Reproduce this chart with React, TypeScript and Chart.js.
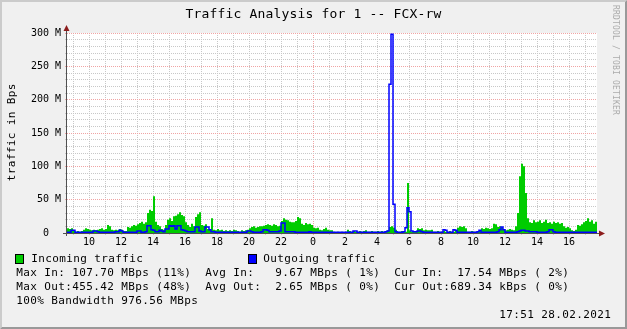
import React, { useEffect, useRef } from 'react';
import { Chart, registerables } from 'chart.js';

Chart.register(...registerables);

// time axis: hours relative to 09:00 of the first day
const BASE_HOUR = 9;
const START_HOUR = -0.375;
const STEP_HOURS = 0.125;
const END_HOUR = 32.75;
const MIDNIGHT_HOUR = 15;

// values in M (Bps), one per 7.5 minutes
const incoming = [
  7, 6, 7, 3, 2, 3, 2, 3, 5, 7, 6, 5, 4, 5, 4, 5, 6, 7, 5, 6,
  12, 10, 5, 4, 5, 4, 6, 5, 3, 3, 9, 8, 10, 12, 11, 13, 15, 17, 14, 16,
  30, 35, 33, 55, 17, 12, 10, 6, 5, 12, 20, 22, 18, 25, 26, 28, 31, 27, 25, 16,
  12, 9, 14, 10, 24, 28, 31, 12, 11, 13, 6, 5, 22, 5, 4, 6, 4, 5, 3, 4,
  3, 4, 3, 5, 4, 3, 2, 4, 3, 4, 5, 7, 9, 10, 8, 9, 10, 10, 11, 12,
  13, 12, 11, 13, 12, 10, 11, 18, 22, 20, 19, 17, 16, 16, 18, 24, 22, 14, 12, 15,
  13, 14, 12, 8, 7, 8, 5, 4, 6, 8, 5, 4, 4, 2, 1, 2, 1, 2, 1, 2,
  5, 3, 2, 3, 2, 2, 3, 2, 3, 4, 2, 2, 3, 2, 2, 3, 2, 3, 2, 3,
  4, 9, 10, 8, 5, 2, 2, 3, 2, 2, 75, 4, 2, 2, 3, 7, 6, 7, 4, 5,
  4, 4, 5, 2, 2, 3, 2, 2, 3, 2, 2, 3, 2, 2, 3, 8, 10, 9, 10, 7,
  2, 2, 3, 2, 2, 2, 3, 7, 6, 8, 7, 6, 7, 14, 13, 9, 10, 8, 5, 4,
  5, 6, 5, 4, 10, 30, 85, 104, 100, 60, 22, 16, 15, 19, 16, 17, 19, 15, 17, 20,
  15, 16, 14, 17, 15, 16, 14, 15, 10, 8, 9, 7, 4, 3, 5, 12, 11, 13, 16, 18,
  22, 17, 19, 14, 17,
];

const outgoing = [
  1, 1, 4, 4, 1, 1, 1, 1, 1, 1, 1, 1, 1, 3, 3, 2, 1, 1, 1, 1,
  1, 1, 1, 1, 2, 2, 4, 3, 1, 1, 1, 1, 1, 1, 1, 3, 3, 1, 1, 2,
  11, 11, 5, 4, 2, 2, 4, 3, 2, 6, 6, 11, 10, 11, 6, 11, 11, 5, 4, 3,
  2, 2, 2, 2, 9, 9, 3, 2, 2, 9, 9, 5, 2, 2, 1, 1, 1, 1, 1, 1,
  1, 1, 1, 1, 1, 1, 1, 1, 1, 1, 3, 3, 2, 1, 1, 1, 1, 2, 5, 5,
  4, 2, 2, 2, 2, 2, 3, 15, 15, 2, 2, 2, 2, 2, 1, 1, 1, 1, 1, 1,
  1, 2, 1, 1, 1, 1, 1, 1, 1, 1, 1, 1, 1, 1, 1, 1, 1, 1, 1, 1,
  1, 1, 1, 3, 3, 1, 1, 1, 1, 1, 1, 1, 1, 1, 1, 1, 1, 1, 1, 2,
  3, 223, 298, 43, 2, 1, 1, 1, 2, 8, 38, 32, 3, 2, 2, 3, 3, 2, 1, 1,
  1, 1, 1, 1, 1, 1, 1, 1, 5, 4, 1, 1, 1, 5, 4, 1, 1, 1, 1, 1,
  1, 1, 1, 1, 1, 2, 4, 1, 1, 1, 1, 1, 1, 1, 1, 2, 5, 9, 5, 1,
  1, 1, 1, 1, 1, 2, 3, 4, 4, 3, 3, 2, 2, 2, 2, 1, 1, 1, 1, 1,
  2, 5, 5, 2, 1, 1, 1, 1, 1, 1, 1, 1, 1, 1, 1, 1, 1, 1, 1, 1,
  1, 1, 1, 1, 1,
];

const Y_MAX = 300;
const Y_MINOR = 10;
const Y_MAJOR = 50;
const Y_UNIT = 'M';

const TITLE = 'Traffic Analysis for 1 -- FCX-rw';
const Y_TITLE = 'traffic in Bps';
const LEGEND_LABELS = ['Incoming traffic', 'Outgoing traffic'];
const STAT_LINES = [
  'Max In: 107.70 MBps (11%)  Avg In:   9.67 MBps ( 1%)  Cur In:  17.54 MBps ( 2%)',
  'Max Out:455.42 MBps (48%)  Avg Out:  2.65 MBps ( 0%)  Cur Out:689.34 kBps ( 0%)',
  '100% Bandwidth 976.56 MBps',
];
const DATE_TEXT = '17:51 28.02.2021';
const WATERMARK = 'RRDTOOL / TOBI OETIKER';

const GREEN = '#00CC00';
const BLUE = '#0000FF';
const GRID_MINOR = '#c8c8c8';
const GRID_MAJOR = '#f0a4a4';
const MONO = '"DejaVu Sans Mono", monospace';

function toPoints(values: number[]) {
  const pts = values.map((v, i) => ({ x: START_HOUR + i * STEP_HOURS, y: v }));
  pts.push({ x: END_HOUR, y: values[values.length - 1] });
  return pts;
}

function drawMono(ctx: CanvasRenderingContext2D, text: string, x: number, y: number, adv: number) {
  for (let i = 0; i < text.length; i++) {
    const ch = text[i];
    if (ch === ' ') continue;
    const w = ctx.measureText(ch).width;
    ctx.fillText(ch, x + i * adv + (adv - w) / 2, y);
  }
}

const rrdPlugin = {
  id: 'rrdDecor',
  beforeDraw(chart: any) {
    const { ctx, chartArea: a, width: W, height: H } = chart;
    ctx.save();
    ctx.fillStyle = '#f0f0f0';
    ctx.fillRect(0, 0, W, H);
    ctx.fillStyle = '#cbcbcb';
    ctx.beginPath();
    ctx.moveTo(0, 0); ctx.lineTo(W, 0); ctx.lineTo(W - 2, 2); ctx.lineTo(2, 2); ctx.lineTo(2, H - 2); ctx.lineTo(0, H);
    ctx.closePath(); ctx.fill();
    ctx.fillStyle = '#999999';
    ctx.beginPath();
    ctx.moveTo(W, 0); ctx.lineTo(W, H); ctx.lineTo(0, H); ctx.lineTo(2, H - 2); ctx.lineTo(W - 2, H - 2); ctx.lineTo(W - 2, 2);
    ctx.closePath(); ctx.fill();
    ctx.fillStyle = '#ffffff';
    ctx.fillRect(a.left, a.top, a.right - a.left, a.bottom - a.top);
    ctx.restore();
  },
  afterDraw(chart: any) {
    const { ctx, chartArea: a } = chart;
    ctx.save();
    // axes
    ctx.strokeStyle = '#505050';
    ctx.lineWidth = 1;
    ctx.beginPath();
    ctx.moveTo(a.left - 0.5, a.bottom + 3);
    ctx.lineTo(a.left - 0.5, a.top - 3);
    ctx.moveTo(a.left - 4, a.bottom + 0.5);
    ctx.lineTo(a.right + 2, a.bottom + 0.5);
    ctx.stroke();
    ctx.fillStyle = '#8c1c1c';
    ctx.beginPath();
    ctx.moveTo(a.left - 3.5, a.top - 2);
    ctx.lineTo(a.left + 2.5, a.top - 2);
    ctx.lineTo(a.left - 0.5, a.top - 8);
    ctx.closePath(); ctx.fill();
    ctx.beginPath();
    ctx.moveTo(a.right + 2, a.bottom - 2.5);
    ctx.lineTo(a.right + 2, a.bottom + 3.5);
    ctx.lineTo(a.right + 8, a.bottom + 0.5);
    ctx.closePath(); ctx.fill();

    // title
    ctx.fillStyle = '#000';
    ctx.textBaseline = 'alphabetic';
    ctx.font = '13px ' + MONO;
    drawMono(ctx, TITLE, 313.5 - (TITLE.length * 8) / 2, 18, 8);

    // y axis title
    ctx.font = '11px ' + MONO;
    ctx.save();
    ctx.translate(15, 132.5 + (Y_TITLE.length * 7) / 2);
    ctx.rotate(-Math.PI / 2);
    drawMono(ctx, Y_TITLE, 0, 0, 7);
    ctx.restore();

    // legend
    const boxes = [
      { x: 16, color: GREEN, tx: 31 },
      { x: 249, color: BLUE, tx: 263 },
    ];
    boxes.forEach((b, i) => {
      ctx.fillStyle = b.color;
      ctx.fillRect(b.x, 255, 7, 8);
      ctx.strokeStyle = '#000';
      ctx.strokeRect(b.x - 0.5, 254.5, 8, 9);
      ctx.fillStyle = '#000';
      drawMono(ctx, LEGEND_LABELS[i], b.tx, 262, 7);
    });
    STAT_LINES.forEach((line, i) => drawMono(ctx, line, 16, 276 + i * 14, 7));
    drawMono(ctx, DATE_TEXT, 611 - DATE_TEXT.length * 7, 318, 7);

    // watermark
    ctx.fillStyle = '#ababab';
    ctx.font = '8px ' + MONO;
    ctx.save();
    ctx.translate(613, 5);
    ctx.rotate(Math.PI / 2);
    drawMono(ctx, WATERMARK, 0, 0, 5);
    ctx.restore();
    ctx.restore();
  },
};

export default function App() {
  const ref = useRef<HTMLCanvasElement>(null);
  useEffect(() => {
    document.body.style.margin = '0';
    const canvas = ref.current;
    if (!canvas) return;
    const chart = new Chart(canvas, {
      type: 'line',
      data: {
        datasets: [
          {
            label: LEGEND_LABELS[1],
            data: toPoints(outgoing),
            borderColor: BLUE,
            borderWidth: 1.5,
            stepped: 'before',
            pointRadius: 0,
            fill: false,
          },
          {
            label: LEGEND_LABELS[0],
            data: toPoints(incoming),
            borderColor: GREEN,
            backgroundColor: GREEN,
            borderWidth: 0,
            stepped: 'before',
            pointRadius: 0,
            fill: 'origin',
          },
        ],
      },
      options: {
        animation: false,
        responsive: false,
        devicePixelRatio: 1,
        layout: { padding: { left: 0, top: 33, right: 30, bottom: 0 } },
        plugins: { legend: { display: false }, tooltip: { enabled: false }, title: { display: false } },
        scales: {
          x: {
            type: 'linear',
            min: START_HOUR,
            max: END_HOUR,
            afterBuildTicks: (scale: any) => {
              const t = [];
              for (let h = Math.ceil(START_HOUR); h <= END_HOUR; h++) t.push({ value: h });
              scale.ticks = t;
            },
            afterFit: (scale: any) => { scale.height = 96; },
            grid: {
              color: (c: any) => (c.tick && c.tick.value === MIDNIGHT_HOUR ? GRID_MAJOR : GRID_MINOR),
              tickColor: (c: any) => (c.tick && c.tick.value === MIDNIGHT_HOUR ? GRID_MAJOR : GRID_MINOR),
              lineWidth: 1,
              drawTicks: true,
              tickLength: 2,
              tickBorderDash: [],
            },
            border: { display: false, dash: [1, 1] },
            ticks: {
              autoSkip: false,
              maxRotation: 0,
              padding: 1,
              color: '#000',
              font: { family: 'DejaVu Sans Mono', size: 10 },
              callback: (v: any) => {
                const h = (BASE_HOUR + Number(v)) % 24;
                return h % 2 === 0 ? String(h) : '';
              },
            },
          },
          y: {
            type: 'linear',
            min: 0,
            max: Y_MAX,
            afterBuildTicks: (scale: any) => {
              const t = [];
              for (let v = 0; v <= Y_MAX; v += Y_MINOR) t.push({ value: v });
              scale.ticks = t;
            },
            afterFit: (scale: any) => { scale.width = 67; },
            grid: {
              color: (c: any) => (c.tick && c.tick.value % Y_MAJOR === 0 ? GRID_MAJOR : GRID_MINOR),
              tickColor: (c: any) => (c.tick && c.tick.value % Y_MAJOR === 0 ? GRID_MAJOR : GRID_MINOR),
              lineWidth: 1,
              drawTicks: true,
              tickLength: 2,
              tickBorderDash: [],
            },
            border: { display: false, dash: [1, 1] },
            ticks: {
              autoSkip: false,
              padding: 4,
              color: '#000',
              font: { family: 'DejaVu Sans Mono', size: 10 },
              callback: (v: any) => {
                const n = Number(v);
                if (n % Y_MAJOR !== 0) return '';
                return n === 0 ? '0  ' : `${n} ${Y_UNIT}`;
              },
            },
          },
        },
      },
      plugins: [rrdPlugin],
    } as any);
    return () => chart.destroy();
  }, []);
  return <canvas ref={ref} width={627} height={329} style={{ display: 'block' }} />;
}
